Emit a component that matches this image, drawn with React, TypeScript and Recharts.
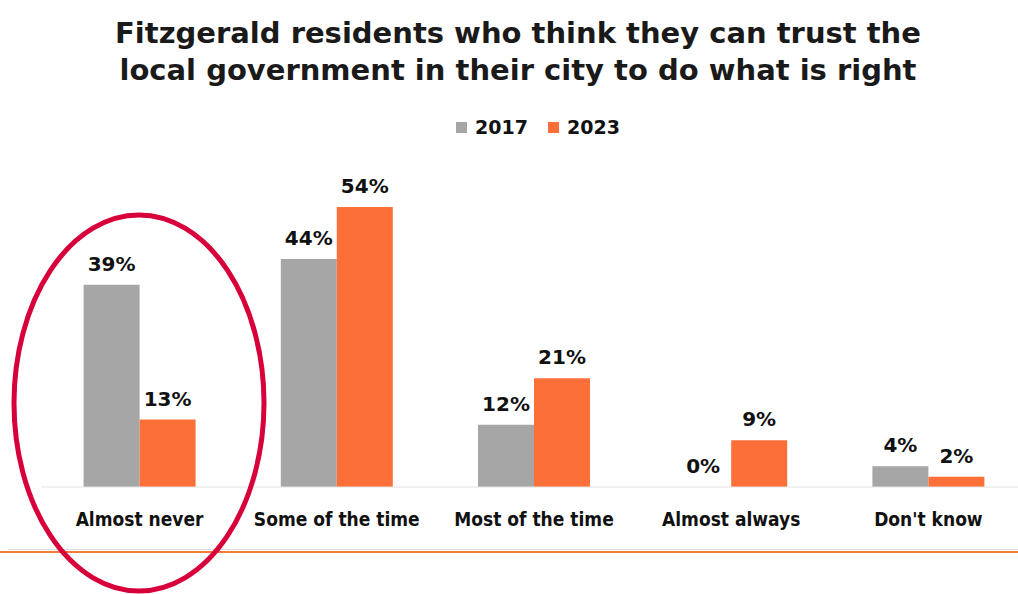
import React from 'react';
import { BarChart, Bar, XAxis, YAxis, LabelList } from 'recharts';

const categories = ['Almost never', 'Some of the time', 'Most of the time', 'Almost always', "Don't know"];
const values2017 = [39, 44, 12, 0, 4];
const values2023 = [13, 54, 21, 9, 2];
const seriesNames = ['2017', '2023'];
const seriesColors = ['#a6a6a6', '#fd6f39'];

const data = categories.map((name, i) => ({
    name,
    y2017: values2017[i],
    y2023: values2023[i],
}));

const boldFont = "'DejaVu Sans', 'Liberation Sans', sans-serif";
const narrowFont = "'DejaVu Sans Condensed', 'Liberation Sans', sans-serif";

// value label drawn by hand so the 0% bar still gets one
const renderValue = (props: any) => {
    const { x, y, width, value } = props;
    return (
        <text x={Number(x) + Number(width) / 2} y={Number(y) - 14} textAnchor="middle" fill="#111" fontSize={20} fontWeight={700} fontFamily={boldFont}>
            {`${value}%`}
        </text>
    );
};

export default function App() {
    return (
        <div style={{ position: 'absolute', left: 0, top: 0, width: 1018, height: 594, overflow: 'hidden', background: '#fff' }}>
            <div style={{ position: 'absolute', left: 0, top: 15, width: 1036, textAlign: 'center', fontFamily: boldFont, fontWeight: 700, fontSize: '29px', lineHeight: '37px', color: '#1a1a1a' }}>
                Fitzgerald residents who think they can trust the<br />
                local government in their city to do what is right
            </div>
            <div style={{ position: 'absolute', left: 0, top: 116, width: 1076, display: 'flex', justifyContent: 'center', gap: '20px', fontFamily: boldFont, fontWeight: 700, fontSize: '19px', color: '#111' }}>
                {seriesNames.map((s, i) => (
                    <div key={s} style={{ display: 'flex', alignItems: 'center' }}>
                        <span style={{ display: 'inline-block', width: 11, height: 11, background: seriesColors[i], marginRight: 8 }} />
                        {s}
                    </div>
                ))}
            </div>
            <BarChart
                width={1040}
                height={594}
                data={data}
                margin={{ top: 176, right: 13, left: 41, bottom: 77 }}
                barGap={0}
                barCategoryGap="21.6%"
            >
                <XAxis
                    dataKey="name"
                    height={30}
                    axisLine={{ stroke: '#e2e2e2', strokeWidth: 1 }}
                    tickLine={false}
                    tickMargin={20}
                    tick={{ fill: '#111', fontSize: 19, fontFamily: narrowFont, fontWeight: 700 }}
                    interval={0}
                />
                <YAxis hide domain={[0, 60]} />
                <Bar dataKey="y2017" name={seriesNames[0]} fill={seriesColors[0]} minPointSize={0.01} isAnimationActive={false}>
                    <LabelList dataKey="y2017" content={renderValue} />
                </Bar>
                <Bar dataKey="y2023" name={seriesNames[1]} fill={seriesColors[1]} isAnimationActive={false}>
                    <LabelList dataKey="y2023" content={renderValue} />
                </Bar>
            </BarChart>
            <div style={{ position: 'absolute', left: 8, top: 549, width: 1010, height: 1, background: '#dcdcdc' }} />
            <div style={{ position: 'absolute', left: 0, top: 551, width: 1018, height: 2, background: '#f57a3c' }} />
            <svg style={{ position: 'absolute', left: 0, top: 0 }} width={1018} height={594}>
                <ellipse cx={139} cy={403} rx={125} ry={188} fill="none" stroke="#d7003a" strokeWidth={5} />
            </svg>
        </div>
    );
}
